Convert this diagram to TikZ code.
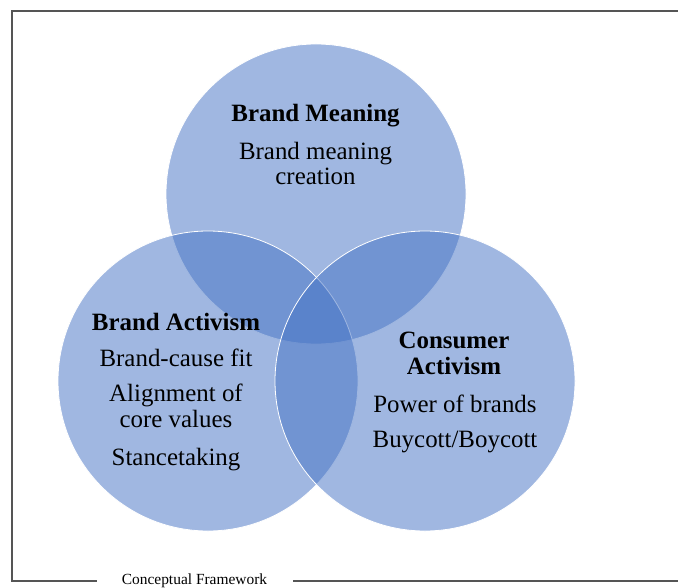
\documentclass[tikz,border=0pt]{standalone}
\usepackage{fontspec}
\setmainfont{Liberation Serif}
\definecolor{vennblue}{RGB}{68,114,196}
\definecolor{framegray}{RGB}{85,85,85}
\begin{document}
\begin{tikzpicture}[x=1bp,y=-1bp,
  venn/.style={circle,minimum size=300bp,inner sep=0pt,fill=vennblue,fill opacity=0.51,draw=white,line width=0.8bp},
  title/.style={anchor=base,inner sep=0pt,font=\fontsize{25}{25}\selectfont\bfseries},
  item/.style={anchor=base,inner sep=0pt,font=\fontsize{25}{25}\selectfont},
  frameline/.style={draw=framegray,line width=1.4bp},
  caption/.style={anchor=base,inner sep=0pt,font=\fontsize{15.5}{15.5}\selectfont}]
  \useasboundingbox (0,0) rectangle (678,588);

  % three overlapping circles
  \node[venn] (meaning) at (316,194) {};
  \node[venn] (brandact) at (208,381) {};
  \node[venn] (consact) at (425,381) {};

  % Brand Meaning
  \node[title] (t1) at (315.5,122) {Brand Meaning};
  \node[item] (m1) at (315.5,160) {Brand meaning};
  \node[item] (m2) at (315.5,185) {creation};

  % Brand Activism
  \node[title] (t2) at (176,330) {Brand Activism};
  \node[item] (a1) at (176,366) {Brand-cause fit};
  \node[item] (a2) at (176,401) {Alignment of};
  \node[item] (a3) at (176,427) {core values};
  \node[item] (a4) at (176,465) {Stancetaking};

  % Consumer Activism
  \node[title] (t3) at (454,348) {Consumer};
  \node[title] (t4) at (454,374) {Activism};
  \node[item] (c1) at (455,412) {Power of brands};
  \node[item] (c2) at (455,447) {Buycott/Boycott};

  % frame with caption in the bottom edge
  \node[caption] (cap) at (194.5,584) {Conceptual Framework};
  \coordinate (tr) at (678,11);
  \coordinate (tl) at (12,11);
  \coordinate (bl) at (12,581);
  \coordinate (bla) at (97,581);
  \coordinate (brb) at (293,581);
  \coordinate (br) at (678,581);
  \draw[frameline] (tr) -- (tl) -- (bl) -- (bla);
  \draw[frameline] (brb) -- (br);
\end{tikzpicture}
\end{document}
